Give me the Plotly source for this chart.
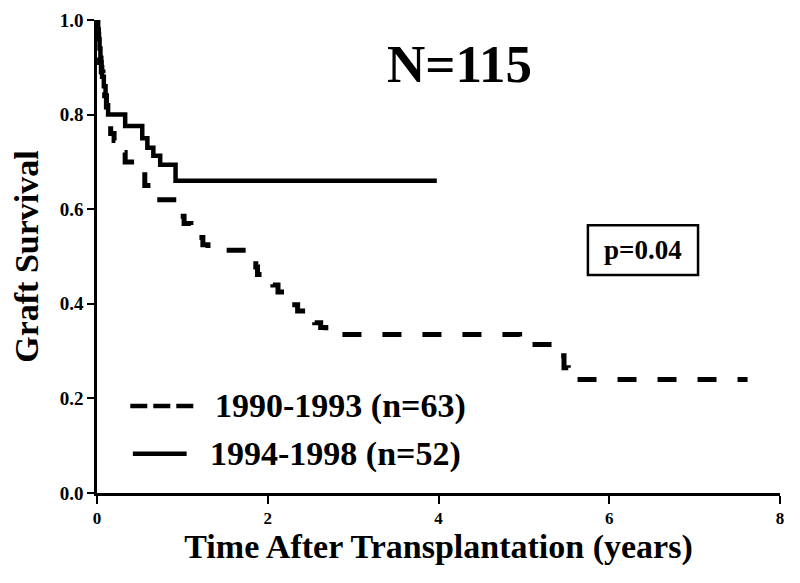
import plotly.graph_objects as go

# ---- data ----
series_early_name = "1990-1993 (n=63)"
early_time = [0, 0.01, 0.02, 0.03, 0.05, 0.07, 0.09, 0.11, 0.13, 0.16, 0.20, 0.27, 0.33,
              0.48, 0.56, 0.64, 0.93, 0.98, 1.02, 1.10, 1.18, 1.24, 1.30, 1.83, 1.86,
              1.88, 1.98, 2.06, 2.12, 2.20, 2.28, 2.35, 2.45, 2.55, 2.62, 2.68, 4.95,
              5.33, 5.47, 5.52, 7.62]
early_surv = [1.0, 0.97, 0.94, 0.91, 0.89, 0.87, 0.84, 0.81, 0.78, 0.76, 0.745, 0.72, 0.70,
              0.68, 0.65, 0.62, 0.60, 0.585, 0.57, 0.555, 0.54, 0.525, 0.513, 0.495, 0.478,
              0.462, 0.45, 0.44, 0.425, 0.41, 0.398, 0.385, 0.372, 0.36, 0.35, 0.335, 0.314,
              0.29, 0.265, 0.24, 0.24]

series_late_name = "1994-1998 (n=52)"
late_time = [0, 0.01, 0.02, 0.03, 0.04, 0.05, 0.06, 0.08, 0.10, 0.11, 0.13, 0.33, 0.53,
             0.59, 0.66, 0.74, 0.92, 3.98]
late_surv = [1.0, 0.98, 0.96, 0.94, 0.92, 0.90, 0.88, 0.86, 0.84, 0.82, 0.80, 0.776, 0.75,
             0.73, 0.713, 0.694, 0.66, 0.66]

x_tickvals = [0, 2, 4, 6, 8]
x_ticktext = ["0", "2", "4", "6", "8"]
y_tickvals = [0.0, 0.2, 0.4, 0.6, 0.8, 1.0]
y_ticktext = ["0.0", "0.2", "0.4", "0.6", "0.8", "1.0"]

title_text = "N=115"
pvalue_text = "p=0.04"
x_title = "Time After Transplantation (years)"
y_title = "Graft Survival"

FONT = "Liberation Serif"


def f(size):
    return dict(family=FONT, size=size, color="black", weight="bold")


fig = go.Figure()
fig.add_trace(go.Scatter(x=early_time, y=early_surv, mode="lines", name=series_early_name,
                         line=dict(color="black", width=5, dash="19px,21px", shape="hv")))
fig.add_trace(go.Scatter(x=late_time, y=late_surv, mode="lines", name=series_late_name,
                         line=dict(color="black", width=4.5, shape="hv")))

# manual legend (sample lines + labels)
fig.add_shape(type="line", xref="x", yref="y", x0=0.39, x1=1.13, y0=0.184, y1=0.184,
              line=dict(color="black", width=4.5, dash="17px,6px"))
fig.add_shape(type="line", xref="x", yref="y", x0=0.42, x1=1.05, y0=0.083, y1=0.083,
              line=dict(color="black", width=4.5))
fig.add_annotation(x=1.36, y=0.184, xref="x", yref="y", text=series_early_name,
                   showarrow=False, xanchor="left", yanchor="middle", font=f(34))
fig.add_annotation(x=1.30, y=0.083, xref="x", yref="y", text=series_late_name,
                   showarrow=False, xanchor="left", yanchor="middle", font=f(34))

# N=115 heading
fig.add_annotation(x=4.25, y=0.908, xref="x", yref="y", text=title_text,
                   showarrow=False, xanchor="center", yanchor="middle", font=f(53))

# p-value box
fig.add_shape(type="rect", xref="x", yref="y", x0=5.75, x1=7.04, y0=0.461, y1=0.566,
              line=dict(color="black", width=2.5), fillcolor="rgba(0,0,0,0)")
fig.add_annotation(x=6.39, y=0.514, xref="x", yref="y", text=pvalue_text,
                   showarrow=False, xanchor="center", yanchor="middle", font=f(27))

# the page body has an 8px default margin, so the margins compensate for it
fig.update_layout(
    width=800, height=583,
    margin=dict(l=89, r=28, t=12, b=98),
    paper_bgcolor="white", plot_bgcolor="white",
    showlegend=False,
    xaxis=dict(range=[0, 8], tickvals=x_tickvals, ticktext=x_ticktext,
               showline=True, linecolor="black", linewidth=2.5, mirror=False,
               ticks="outside", ticklen=8, tickwidth=2, tickcolor="black",
               showgrid=False, zeroline=False, tickfont=f(17), automargin=False,
               title=dict(text=x_title, font=f(34), standoff=8)),
    yaxis=dict(range=[0, 1.0], tickvals=y_tickvals, ticktext=y_ticktext,
               showline=True, linecolor="black", linewidth=2.5, mirror=False,
               ticks="outside", ticklen=7, tickwidth=2, tickcolor="black",
               showgrid=False, zeroline=False, tickfont=f(19), automargin=False,
               ticklabeloverflow="allow",
               title=dict(text=y_title, font=f(34), standoff=20)),
)

fig.write_html("out.html")
